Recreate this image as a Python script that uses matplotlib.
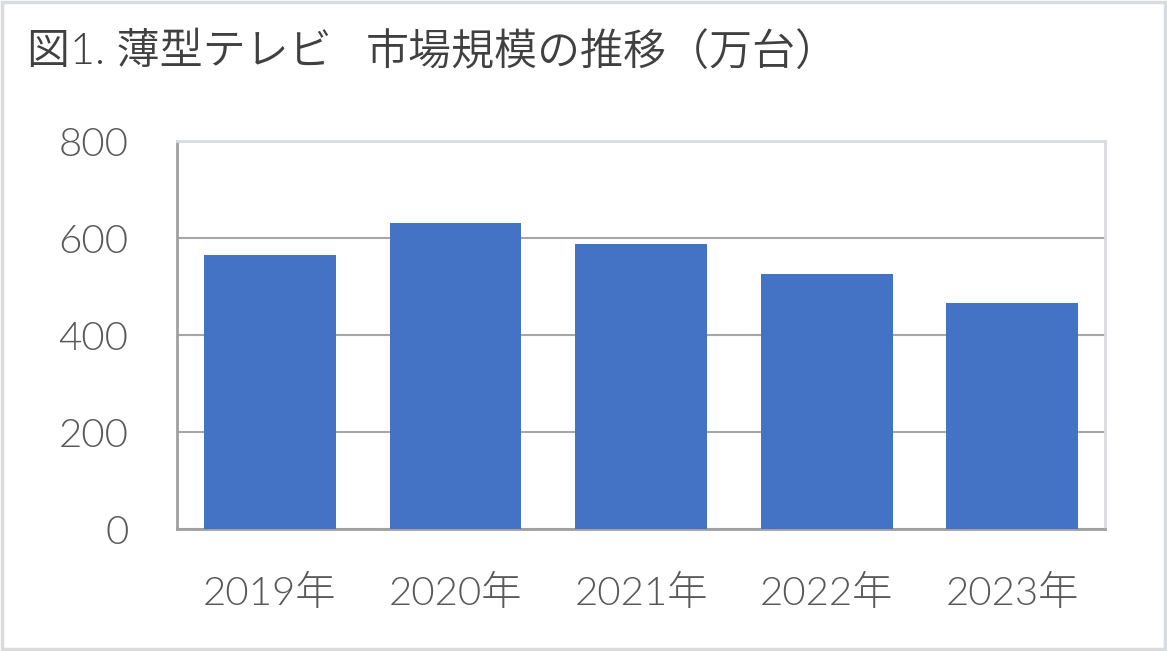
import matplotlib.pyplot as plt
from matplotlib.patches import Rectangle

years = ['2019年', '2020年', '2021年', '2022年', '2023年']
units = [564, 630, 587, 526, 466]
yticks = [0, 200, 400, 600, 800]
title_parts = ['図1. 薄型テレビ', '市場規模の推移（万台）']

plt.rcParams['font.family'] = ['Lato', 'Noto Sans CJK JP', 'DejaVu Sans']

fig = plt.figure(figsize=(11.67, 6.51), dpi=100)
ax = fig.add_axes([0.1517, 0.1874, 0.7952, 0.596])

ax.bar(range(len(years)), units, width=0.71, color='#4472C4', zorder=3)

ax.set_xlim(-0.5, len(years) - 0.5)
ax.set_ylim(0, 800)
ax.set_yticks(yticks)
ax.set_xticks(range(len(years)))
ax.set_xticklabels(years)

ax.grid(axis='y', color='#a6a6a6', linewidth=1.5, zorder=0)
for side in ['left', 'bottom']:
    ax.spines[side].set_color('#a0a0a0')
    ax.spines[side].set_linewidth(2)
for side in ['top', 'right']:
    ax.spines[side].set_color('#d9dcdf')
    ax.spines[side].set_linewidth(2)

ax.tick_params(length=0, labelsize=29, labelcolor='#595959')
ax.tick_params(axis='y', pad=35)
ax.tick_params(axis='x', pad=33)
for lab in ax.get_xticklabels() + ax.get_yticklabels():
    lab.set_fontweight(300)

# title in two pieces, gap as in the original
fig.text(0.023, 0.919, title_parts[0], fontsize=31,
         color='#404040', fontweight=350, va='center', ha='left')
fig.text(0.313, 0.919, title_parts[1], fontsize=31,
         color='#404040', fontweight=350, va='center', ha='left')

# outer frame
fig.patches.append(Rectangle((0.002, 0.003), 0.996, 0.994, transform=fig.transFigure,
                             fill=False, edgecolor='#d9dcdf', linewidth=2.5))

fig.savefig('out.png', dpi=100)
